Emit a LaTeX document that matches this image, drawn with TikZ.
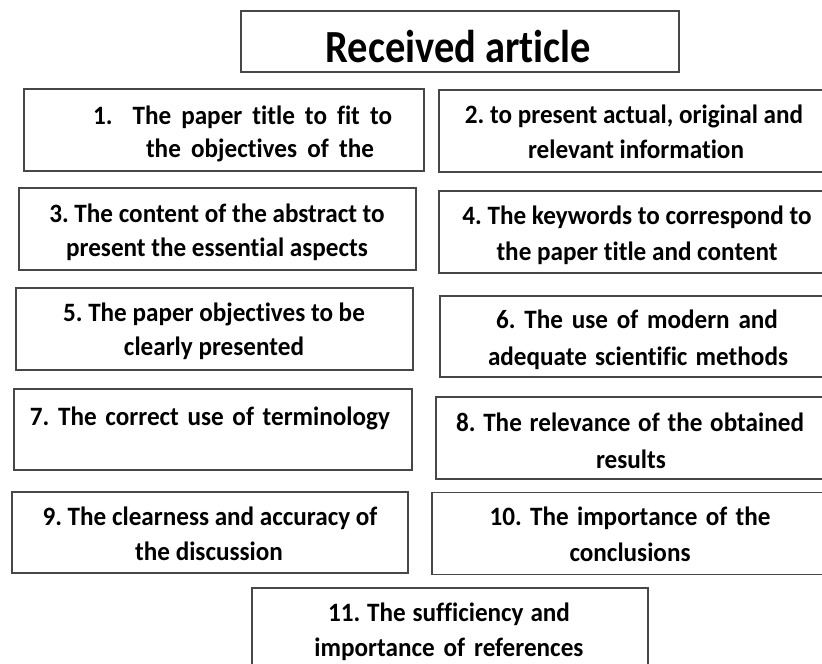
\documentclass[tikz,border=0pt]{standalone}
\usepackage{fontspec}
\setmainfont{Carlito}[Ligatures={NoCommon,NoContextual}]
\frenchspacing
\newcommand{\sq}[1]{\scalebox{0.95}[1]{#1}}
\newcommand{\jline}[2]{\scalebox{0.95}[1]{\makebox[#1pt][s]{#2}}}
\begin{document}
\begin{tikzpicture}[x=1pt,y=-1pt,
  box/.style={draw=black!72, line width=1.6pt, fill=white, inner sep=0pt, outer sep=0pt},
  txt/.style={anchor=base, inner sep=0pt, font=\fontsize{26.5}{30}\selectfont\bfseries},
  ttl/.style={anchor=base, inner sep=0pt, font=\fontsize{46}{52}\selectfont\bfseries}]
\useasboundingbox[fill=white] (0,0) rectangle (822,664);
% boxes
\node[box, minimum width=438, minimum height=61] (b0) at (460,41.5) {};
\node[box, minimum width=400, minimum height=82] (b1) at (224,130) {};
\node[box, minimum width=392, minimum height=82] (b2) at (635,131) {};
\node[box, minimum width=397, minimum height=82] (b3) at (217.5,229) {};
\node[box, minimum width=396, minimum height=82] (b4) at (637,232) {};
\node[box, minimum width=397, minimum height=82] (b5) at (214.5,329) {};
\node[box, minimum width=396, minimum height=81] (b6) at (638,336.5) {};
\node[box, minimum width=398, minimum height=81] (b7) at (213,429.5) {};
\node[box, minimum width=390, minimum height=82] (b8) at (631,438) {};
\node[box, minimum width=396, minimum height=81] (b9) at (210,532.5) {};
\node[box, minimum width=396, minimum height=82] (b10) at (630,533.5) {};
\node[box, minimum width=396, minimum height=82] (b11) at (450,629) {};
% texts
\node[ttl] (t0) at (458.5,62) {\scalebox{0.88}[1]{Received article}};
\node[txt] (t1a) at (242.5,124) {\jline{314.7}{1.\ \ The paper title to fit to}};
\node[txt] (t1b) at (260,157.5) {\jline{240}{the objectives of the}};
\node[txt] (t2a) at (634,123) {\sq{2. to present actual, original and}};
\node[txt] (t2b) at (636,158) {\sq{relevant information}};
\node[txt] (t3a) at (217,222.7) {\sq{3. The content of the abstract to}};
\node[txt] (t3b) at (217,256.7) {\sq{present the essential aspects}};
\node[txt] (t4a) at (637,224) {\sq{4. The keywords to correspond to}};
\node[txt] (t4b) at (637,260) {\sq{the paper title and content}};
\node[txt] (t5a) at (214,321.7) {\sq{5. The paper objectives to be}};
\node[txt] (t5b) at (214,355) {\sq{clearly presented}};
\node[txt] (t6a) at (637,328) {\jline{296.8}{6. The use of modern and}};
\node[txt] (t6b) at (638,365) {\jline{315.8}{adequate scientific methods}};
\node[txt] (t7a) at (210,425.7) {\jline{379}{7. The correct use of terminology}};
\node[txt] (t8a) at (630,431.7) {\jline{366.3}{8. The relevance of the obtained}};
\node[txt] (t8b) at (631,468) {\sq{results}};
\node[txt] (t9a) at (210,525.7) {\sq{9. The clearness and accuracy of}};
\node[txt] (t9b) at (209,560) {\sq{the discussion}};
\node[txt] (t10a) at (630,525.7) {\jline{295.8}{10. The importance of the}};
\node[txt] (t10b) at (630,561) {\sq{conclusions}};
\node[txt] (t11a) at (449,621.7) {\jline{254.7}{11. The sufficiency and}};
\node[txt] (t11b) at (449,656.7) {\jline{283.2}{importance of references}};
\end{tikzpicture}
\end{document}
